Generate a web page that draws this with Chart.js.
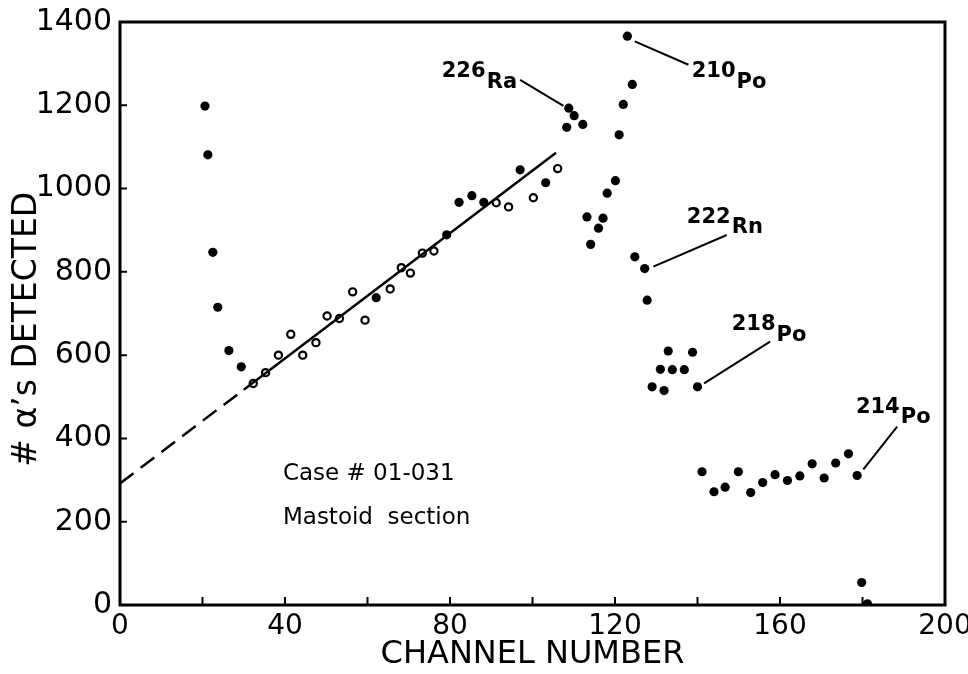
<!DOCTYPE html>
<html>
<head>
<meta charset="utf-8">
<script src="https://cdn.jsdelivr.net/npm/chart.js@4/dist/chart.umd.min.js"></script>
<style>
  html, body { margin: 0; padding: 0; background: #fff; }
  #wrap { width: 968px; height: 674px; }
</style>
</head>
<body>
<div id="wrap"><canvas id="c" width="968" height="674"></canvas></div>
<script>
// Alpha counts per channel, mastoid section, case 01-031.
// Solid markers: spectrum channels; hollow markers: channels used for the linear fit.
const solidChannel = [20.6, 21.3, 22.5, 23.7, 26.4, 29.4,
  62.1, 79.2, 82.2, 85.3, 88.2, 97.0, 103.2,
  108.3, 108.8, 110.1, 112.2,
  113.2, 114.1, 116.0, 117.1, 118.1, 120.1, 121.0, 122.0, 123.0, 124.2,
  124.8, 127.2, 127.8,
  129.0, 131.0, 131.9, 132.9, 133.9, 136.8, 138.8, 140.0,
  141.1, 144.0, 146.7, 149.9, 152.9, 155.8, 158.8, 161.8, 164.8, 167.8, 170.7, 173.5, 176.6, 178.7,
  179.8, 181.2];
const solidCount = [1198, 1081, 847, 715, 611, 572,
  738, 889, 967, 983, 967, 1045, 1014,
  1147, 1193, 1175, 1154,
  932, 866, 905, 929, 989, 1019, 1129, 1202, 1366, 1250,
  836, 808, 732,
  524, 566, 515, 610, 565, 565, 607, 524,
  320, 272, 283, 320, 270, 294, 313, 299, 310, 339, 305, 341, 363, 311,
  54, 3];

const hollowChannel = [32.3, 35.3, 38.4, 41.4, 44.3, 47.5, 50.2, 53.2, 56.4, 59.4,
  65.5, 68.2, 70.4, 73.3, 76.1, 91.2, 94.2, 100.2, 106.1];
const hollowCount = [532, 558, 600, 650, 600, 630, 694, 688, 752, 684,
  759, 810, 797, 845, 850, 966, 956, 978, 1048];

// Fitted background line: extrapolated part (dashed) and fitted part (solid)
const fitExtrapChannel = [0, 30];
const fitExtrapCount = [292, 517];
const fitChannel = [30, 105.7];
const fitCount = [517, 1086];

// Axis ticks
const xTickValues = [0, 20, 40, 60, 80, 100, 120, 140, 160, 180, 200];
const xLabelValues = [0, 40, 80, 120, 160, 200];
const yTickValues = [0, 200, 400, 600, 800, 1000, 1200, 1400];

// Peak identification labels
const peakMass = ['226', '210', '222', '218', '214'];
const peakElement = ['Ra', 'Po', 'Rn', 'Po', 'Po'];

const zip = (xs, ys) => xs.map((x, i) => ({ x: x, y: ys[i] }));

// Placement of the peak labels and their leader lines, in channel / count units
const peakLabelLayout = {
  massAt:   [[78.0, 1268.7], [138.6, 1268.7], [137.4, 917.4], [148.3, 660.4], [178.4, 460.4]],
  symbolAt: [[88.9, 1240.9], [145.9, 1241.6], [148.3, 892.7], [155.9, 634.0], [188.3, 437.1]],
  leaderFrom: [[107.5, 1198.4], [124.8, 1353.4], [129.3, 812.4], [141.6, 532.4], [180.2, 325.9]],
  leaderTo:   [[97.0, 1260.8], [137.8, 1297.3], [147.1, 888.6], [157.6, 632.3], [188.4, 428.2]]
};
const caseNote = { lines: ['Case # 01-031', 'Mastoid  section'], at: [[39.5, 300], [39.5, 194.5]] };

const FONT = 'DejaVu Sans';

const decorations = {
  id: 'decorations',
  afterDatasetsDraw(chart) {
    const { ctx, chartArea: a, scales: { x, y } } = chart;
    ctx.save();
    ctx.strokeStyle = '#000';
    ctx.fillStyle = '#000';

    // inward tick marks
    ctx.lineWidth = 2;
    ctx.beginPath();
    xTickValues.forEach(v => {
      const px = x.getPixelForValue(v);
      ctx.moveTo(px, a.bottom); ctx.lineTo(px, a.bottom - 8);
    });
    yTickValues.forEach(v => {
      const py = y.getPixelForValue(v);
      ctx.moveTo(a.left, py); ctx.lineTo(a.left + 7, py);
    });
    ctx.stroke();

    // frame
    ctx.lineWidth = 3;
    ctx.strokeRect(a.left, a.top, a.right - a.left, a.bottom - a.top);

    // leader lines
    ctx.lineWidth = 2;
    ctx.beginPath();
    peakLabelLayout.leaderFrom.forEach((p, i) => {
      const q = peakLabelLayout.leaderTo[i];
      ctx.moveTo(x.getPixelForValue(p[0]), y.getPixelForValue(p[1]));
      ctx.lineTo(x.getPixelForValue(q[0]), y.getPixelForValue(q[1]));
    });
    ctx.stroke();

    // isotope labels: mass number raised, element symbol on its own baseline
    ctx.textAlign = 'left';
    ctx.textBaseline = 'alphabetic';
    ctx.font = 'bold 21px "' + FONT + '"';
    peakMass.forEach((m, i) => {
      const p = peakLabelLayout.massAt[i];
      const mx = x.getPixelForValue(p[0]);
      ctx.fillText(m, mx, y.getPixelForValue(p[1]));
      const s = peakLabelLayout.symbolAt[i];
      const sx = Math.max(x.getPixelForValue(s[0]), mx + ctx.measureText(m).width + 1);
      ctx.fillText(peakElement[i], sx, y.getPixelForValue(s[1]));
    });

    // sample note
    ctx.font = '23px "' + FONT + '"';
    caseNote.lines.forEach((t, i) => {
      const p = caseNote.at[i];
      ctx.fillText(t, x.getPixelForValue(p[0]), y.getPixelForValue(p[1]));
    });
    ctx.restore();
  }
};

const noEdgePadding = s => { s.paddingLeft = 0; s.paddingRight = 0; s.paddingTop = 0; s.paddingBottom = 0; };

new Chart(document.getElementById('c'), {
  type: 'scatter',
  data: {
    datasets: [
      {
        type: 'line', data: zip(fitExtrapChannel, fitExtrapCount),
        borderColor: '#000', borderWidth: 2.5, borderDash: [17, 9],
        pointRadius: 0, fill: false, tension: 0
      },
      {
        type: 'line', data: zip(fitChannel, fitCount),
        borderColor: '#000', borderWidth: 2.5,
        pointRadius: 0, fill: false, tension: 0
      },
      {
        data: zip(hollowChannel, hollowCount),
        pointRadius: 3.6, pointBorderWidth: 2.2,
        pointBackgroundColor: '#fff', pointBorderColor: '#000'
      },
      {
        data: zip(solidChannel, solidCount),
        pointRadius: 4.6, pointBorderWidth: 0,
        pointBackgroundColor: '#000', pointBorderColor: '#000'
      }
    ]
  },
  options: {
    responsive: false,
    animation: false,
    events: [],
    layout: { padding: { top: 22, right: 23, left: 0, bottom: 0 } },
    plugins: { legend: { display: false }, tooltip: { enabled: false } },
    scales: {
      x: {
        type: 'linear', position: 'bottom', min: 0, max: 200,
        afterBuildTicks: s => { s.ticks = xLabelValues.map(v => ({ value: v })); },
        ticks: {
          color: '#000', padding: 5, maxRotation: 0, autoSkip: false,
          font: { family: FONT, size: 28 },
          callback: v => String(v)
        },
        grid: { display: false, drawTicks: false },
        border: { display: false },
        title: {
          display: true, text: 'CHANNEL NUMBER', color: '#000',
          font: { family: FONT, size: 32 }, padding: { top: 0, bottom: 0 }
        },
        afterFit: s => { s.height = 69; noEdgePadding(s); }
      },
      y: {
        type: 'linear', position: 'left', min: 0, max: 1400,
        afterBuildTicks: s => { s.ticks = yTickValues.map(v => ({ value: v })); },
        ticks: {
          color: '#000', padding: 8,
          font: { family: FONT, size: 30 },
          callback: v => String(v)
        },
        grid: { display: false, drawTicks: false },
        border: { display: false },
        title: {
          display: true, text: '# \u03b1\u2019s DETECTED\u00a0\u00a0\u00a0', color: '#000',
          font: { family: FONT, size: 33 }, padding: { top: 8, bottom: 0 }
        },
        afterFit: s => { s.width = 120; noEdgePadding(s); }
      }
    }
  },
  plugins: [decorations]
});
</script>
</body>
</html>
